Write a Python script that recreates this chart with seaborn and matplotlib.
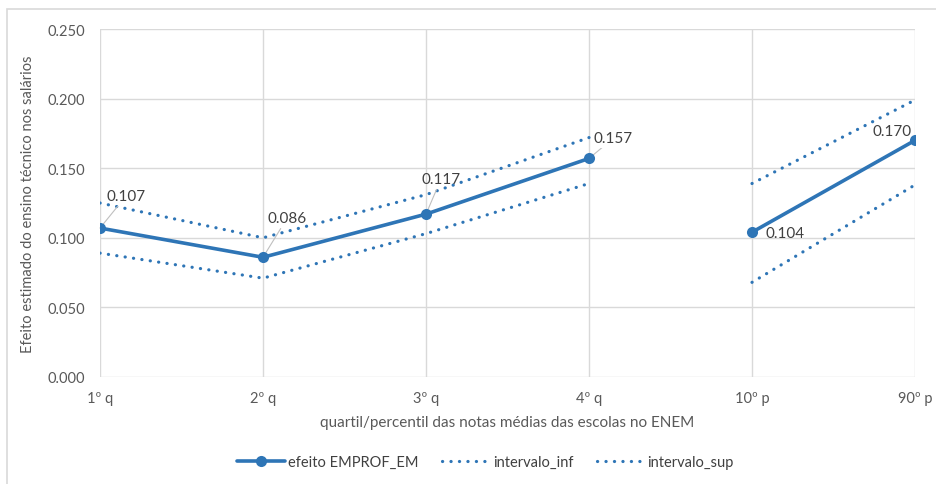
import matplotlib
matplotlib.use("Agg")
import matplotlib.pyplot as plt
import seaborn as sns
import pandas as pd
import numpy as np
from matplotlib.lines import Line2D
from matplotlib.patches import Rectangle

# Categories and series
categorias = ["1º q", "2º q", "3º q", "4º q", "10º p", "90º p"]
grupo = ["quartil", "quartil", "quartil", "quartil", "percentil", "percentil"]
efeito = [0.107, 0.086, 0.117, 0.157, 0.104, 0.170]
intervalo_inf = [0.089, 0.071, 0.103, 0.139, 0.068, 0.138]
intervalo_sup = [0.125, 0.100, 0.131, 0.172, 0.139, 0.199]

sns.set_theme(style="white")
plt.rcParams["font.family"] = ["Lato", "DejaVu Sans"]

BLUE = "#2E75B6"
GRID = "#D9D9D9"
TXT = "#595959"

df = pd.DataFrame({
    "pos": np.arange(len(categorias)),
    "cat": categorias,
    "grupo": grupo,
    "efeito": efeito,
    "inf": intervalo_inf,
    "sup": intervalo_sup,
})

fig = plt.figure(figsize=(9.37, 4.85), dpi=100)
ax = fig.add_axes([100 / 937, 1 - 378 / 485, (915 - 100) / 937, (378 - 30) / 485])

dot_style = dict(linewidth=2.3, linestyle=(0, (0.05, 2.6)),
                 dash_capstyle="round", color=BLUE)

for g in ["quartil", "percentil"]:
    sub = df[df["grupo"] == g]
    sns.lineplot(data=sub, x="pos", y="inf", ax=ax, legend=False, sort=False, **dot_style)
    sns.lineplot(data=sub, x="pos", y="sup", ax=ax, legend=False, sort=False, **dot_style)
    sns.lineplot(data=sub, x="pos", y="efeito", ax=ax, legend=False, sort=False,
                 color=BLUE, linewidth=2.6, marker="o", markersize=8,
                 markeredgewidth=0, zorder=5)

ax.set_xlim(0, len(categorias) - 1)
ax.set_ylim(0, 0.25)
ax.set_xticks(df["pos"])
ax.set_xticklabels(categorias)
ax.set_yticks(np.arange(0, 0.2501, 0.05))
ax.set_yticklabels([f"{v:.3f}" for v in np.arange(0, 0.2501, 0.05)])
ax.tick_params(axis="both", colors=TXT, labelsize=10.5, length=0)
ax.tick_params(axis="x", pad=10)
ax.tick_params(axis="y", pad=11)
ax.grid(True, color=GRID, linewidth=1)
for s in ax.spines.values():
    s.set_visible(False)
ax.set_axisbelow(True)

ax.set_xlabel("quartil/percentil das notas médias das escolas no ENEM",
              color=TXT, fontsize=11, labelpad=7)
ax.set_ylabel("Efeito estimado do ensino técnico nos salários",
              color=TXT, fontsize=10.5, labelpad=9)

# Data labels with leader lines
offsets = [(26, 32, True), (24, 39, True), (15, 35, True),
           (24, 20, True), (33, -1, False), (-23, 9, False)]
for i, (v, (dx, dy, lead)) in enumerate(zip(efeito, offsets)):
    kw = {}
    if lead:
        kw["arrowprops"] = dict(arrowstyle="-", color="#BFBFBF", lw=0.8,
                                shrinkA=0, shrinkB=0)
    bbox = None
    if i == 3:
        bbox = dict(boxstyle="square,pad=0.15", fc="white", ec="none")
    ax.annotate(f"{v:.3f}", xy=(df["pos"][i], v), xytext=(dx, dy),
                textcoords="offset pixels", ha="center", va="center",
                fontsize=11, color="#404040", bbox=bbox, zorder=4,
                annotation_clip=False, **kw)

handles = [
    Line2D([], [], color=BLUE, linewidth=2.6, marker="o", markersize=8, markeredgewidth=0),
    Line2D([], [], **dot_style),
    Line2D([], [], **dot_style),
]
labels = ["efeito EMPROF_EM", "intervalo_inf", "intervalo_sup"]
leg = fig.legend(handles, labels, loc="center", bbox_to_anchor=(0.518, 1 - 463 / 485),
                 ncol=3, frameon=False, fontsize=10.5, handlelength=3.3,
                 columnspacing=1.6, handletextpad=0.2)
for t in leg.get_texts():
    t.set_color("#404040")

# Chart-area frame (only its top and left edges fall inside the image)
fig.patches.append(Rectangle((7 / 937, -0.1), 1.0, 1 - 10 / 485 + 0.1,
                             transform=fig.transFigure, fill=False,
                             edgecolor=GRID, linewidth=1.2))

fig.savefig("out.png", dpi=100, facecolor="white")
